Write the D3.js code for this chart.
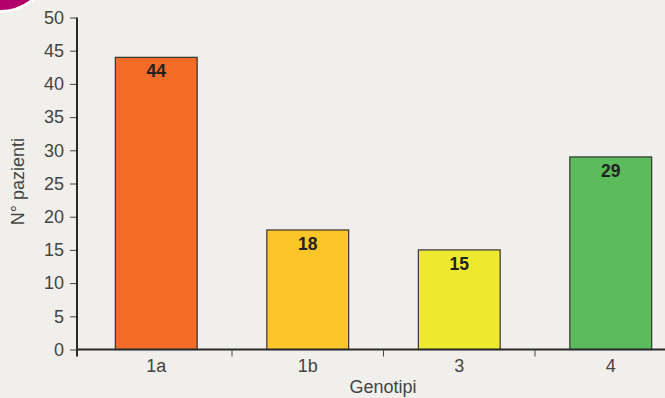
<!DOCTYPE html>
<html><head><meta charset="utf-8">
<script src="https://cdn.jsdelivr.net/npm/d3@7"></script>
<style>html,body{margin:0;padding:0;background:#f0efeb;}svg{display:block;}</style>
</head><body>
<script>
const categories = ["1a", "1b", "3", "4"];
const values = [44, 18, 15, 29];
const barColors = ["#f36d29", "#fec52a", "#eee82e", "#5cbb5b"];
const yTicks = [0, 5, 10, 15, 20, 25, 30, 35, 40, 45, 50];
const xTitle = "Genotipi";
const yTitle = "N° pazienti";

const W = 665, H = 398;
const svg = d3.select("body").append("svg").attr("width", W).attr("height", H);
svg.append("rect").attr("width", W).attr("height", H).attr("fill", "#f0efeb");

// decorative badge
svg.append("circle").attr("cx", 0).attr("cy", -40).attr("r", 51.5)
  .attr("fill", "#b1006a").attr("stroke", "#ffffff").attr("stroke-width", 3);

const x0 = 77, yBase = 349.5, yTop = 17.5;
const x = d3.scaleBand().domain(categories).range([80.5, 686.5]).paddingInner(0.46).paddingOuter(0.23);
const y = d3.scaleLinear().domain([0, 50]).range([yBase, yTop]);

const font = "Liberation Sans, Arial, Helvetica, sans-serif";
const fs = 18;

// y axis
const ya = svg.append("g").attr("transform", `translate(${x0},0)`)
  .call(d3.axisLeft(y).tickValues(yTicks).tickSize(7).tickPadding(6));
ya.select(".domain").remove();
ya.selectAll(".tick line").attr("stroke", "#444").attr("stroke-width", 1);
ya.selectAll(".tick text").attr("font-family", font).attr("font-size", fs).attr("fill", "#444");
svg.append("line").attr("x1", x0).attr("x2", x0).attr("y1", yTop).attr("y2", yBase + 7)
  .attr("stroke", "#2a2a2a").attr("stroke-width", 2);

// bars
svg.selectAll("rect.bar").data(values).enter().append("rect").attr("class", "bar")
  .attr("x", (d, i) => x(categories[i]))
  .attr("y", d => y(d))
  .attr("width", x.bandwidth())
  .attr("height", d => yBase - y(d))
  .attr("fill", (d, i) => barColors[i])
  .attr("stroke", "#333").attr("stroke-width", 1.2);

svg.selectAll("text.val").data(values).enter().append("text").attr("class", "val")
  .attr("x", (d, i) => x(categories[i]) + x.bandwidth() / 2)
  .attr("y", d => y(d) + 20)
  .attr("text-anchor", "middle")
  .attr("font-family", font).attr("font-size", 17.5).attr("font-weight", "bold")
  .attr("fill", "#222").text(d => d);

// x axis
const step = x.step();
const sepTicks = categories.slice(0, -1).map((c, i) => x(c) + x.bandwidth() / 2 + step / 2);
svg.append("line").attr("x1", x0).attr("x2", W).attr("y1", yBase).attr("y2", yBase)
  .attr("stroke", "#2a2a2a").attr("stroke-width", 2);
svg.selectAll("line.sep").data(sepTicks).enter().append("line").attr("class", "sep")
  .attr("x1", d => d).attr("x2", d => d).attr("y1", yBase).attr("y2", yBase + 7)
  .attr("stroke", "#444").attr("stroke-width", 1);
svg.selectAll("text.cat").data(categories).enter().append("text").attr("class", "cat")
  .attr("x", d => x(d) + x.bandwidth() / 2).attr("y", 372)
  .attr("text-anchor", "middle").attr("font-family", font).attr("font-size", fs)
  .attr("fill", "#444").text(d => d);

svg.append("text").attr("x", 383).attr("y", 393).attr("text-anchor", "middle")
  .attr("font-family", font).attr("font-size", fs).attr("fill", "#444").text(xTitle);
svg.append("text").attr("transform", "translate(24,181.5) rotate(-90)").attr("text-anchor", "middle")
  .attr("font-family", font).attr("font-size", fs).attr("fill", "#444").text(yTitle);
</script>
</body></html>
